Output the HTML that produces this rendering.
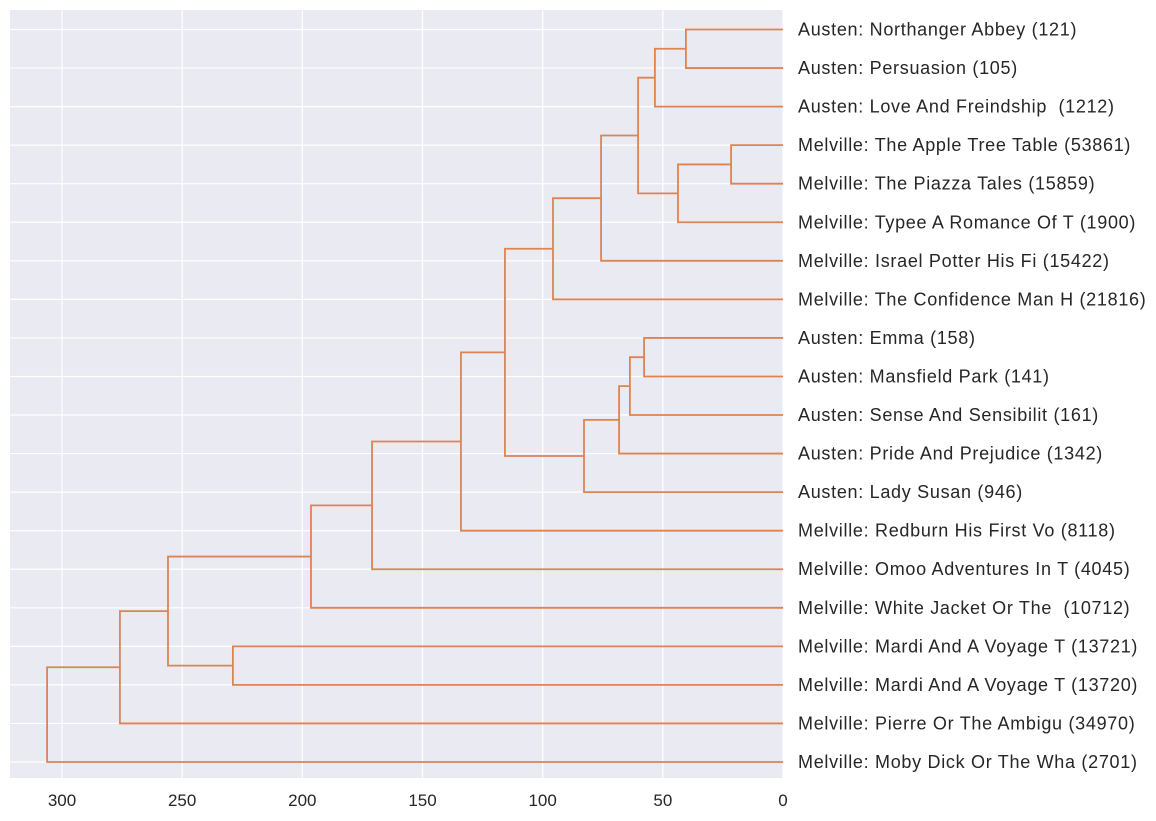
<!DOCTYPE html>
<html><head><meta charset="utf-8">
<style>
html,body{margin:0;padding:0;background:#fff;}
svg{display:block;font-family:"Liberation Sans",Arial,sans-serif;}
svg text{white-space:pre;}
</style></head>
<body>
<svg id="chart" width="1156" height="821"></svg>
<script>
const leafLabels = [
"Austen: Northanger Abbey (121)","Austen: Persuasion (105)","Austen: Love And Freindship  (1212)",
"Melville: The Apple Tree Table (53861)","Melville: The Piazza Tales (15859)","Melville: Typee A Romance Of T (1900)",
"Melville: Israel Potter His Fi (15422)","Melville: The Confidence Man H (21816)","Austen: Emma (158)",
"Austen: Mansfield Park (141)","Austen: Sense And Sensibilit (161)","Austen: Pride And Prejudice (1342)",
"Austen: Lady Susan (946)","Melville: Redburn His First Vo (8118)","Melville: Omoo Adventures In T (4045)",
"Melville: White Jacket Or The  (10712)","Melville: Mardi And A Voyage T (13721)","Melville: Mardi And A Voyage T (13720)",
"Melville: Pierre Or The Ambigu (34970)","Melville: Moby Dick Or The Wha (2701)"];
const mergeLeft  = [0,20,3,22,21,24,25,8,27,28,29,26,31,32,33,16,34,36,37];
const mergeRight = [1,2,4,5,23,6,7,9,10,11,12,30,13,14,15,17,35,18,19];
const mergeHeight = [40.4,53.3,21.6,43.7,60.3,75.7,95.7,57.8,63.7,68.2,82.8,115.7,134,171,196.4,228.9,255.9,275.9,306.2];
const xTicks = [300,250,200,150,100,50,0];

const NS="http://www.w3.org/2000/svg";
const svg=document.getElementById('chart');
const L=10,R=783,T=10,B=778;
const xs=v=>R-v*(R-62)/300;
const ys=i=>29.5+i*(762-29.5)/19;
function mk(tag,attrs,parent){const e=document.createElementNS(NS,tag);for(const k in attrs)e.setAttribute(k,attrs[k]);(parent||svg).appendChild(e);return e;}

const bg=mk('rect',{x:L,y:T,width:R-L,height:B-T,fill:'#eaeaf2'});



xTicks.forEach(t=>{
  const g=mk('line',{x1:xs(t),x2:xs(t),y1:T,y2:B,stroke:'#fff','stroke-width':1.2});
  
  
  const tx=mk('text',{x:xs(t),y:806,'text-anchor':'middle','font-size':17,fill:'#262626'});
  tx.textContent=t;
  
  
});
leafLabels.forEach((lab,i)=>{
  const g=mk('line',{x1:L,x2:R,y1:ys(i),y2:ys(i),stroke:'#fff','stroke-width':1.2});
  
  
  const tx=mk('text',{x:798,y:ys(i)+6,'font-size':18,'letter-spacing':0.7,fill:'#262626'});
  tx.textContent=lab;
  
  
});

const pos={},hgt={};
leafLabels.forEach((_,i)=>{pos[i]=ys(i);hgt[i]=0;});
mergeLeft.forEach((a,k)=>{
  const b=mergeRight[k],h=mergeHeight[k],id=leafLabels.length+k;
  const d=`M${xs(hgt[a])},${pos[a]}H${xs(h)}V${pos[b]}H${xs(hgt[b])}`;
  const p=mk('path',{d:d,fill:'none',stroke:'#dd8452','stroke-width':1.8});
  
  
  pos[id]=(pos[a]+pos[b])/2;hgt[id]=h;
});
</script>
</body></html>
